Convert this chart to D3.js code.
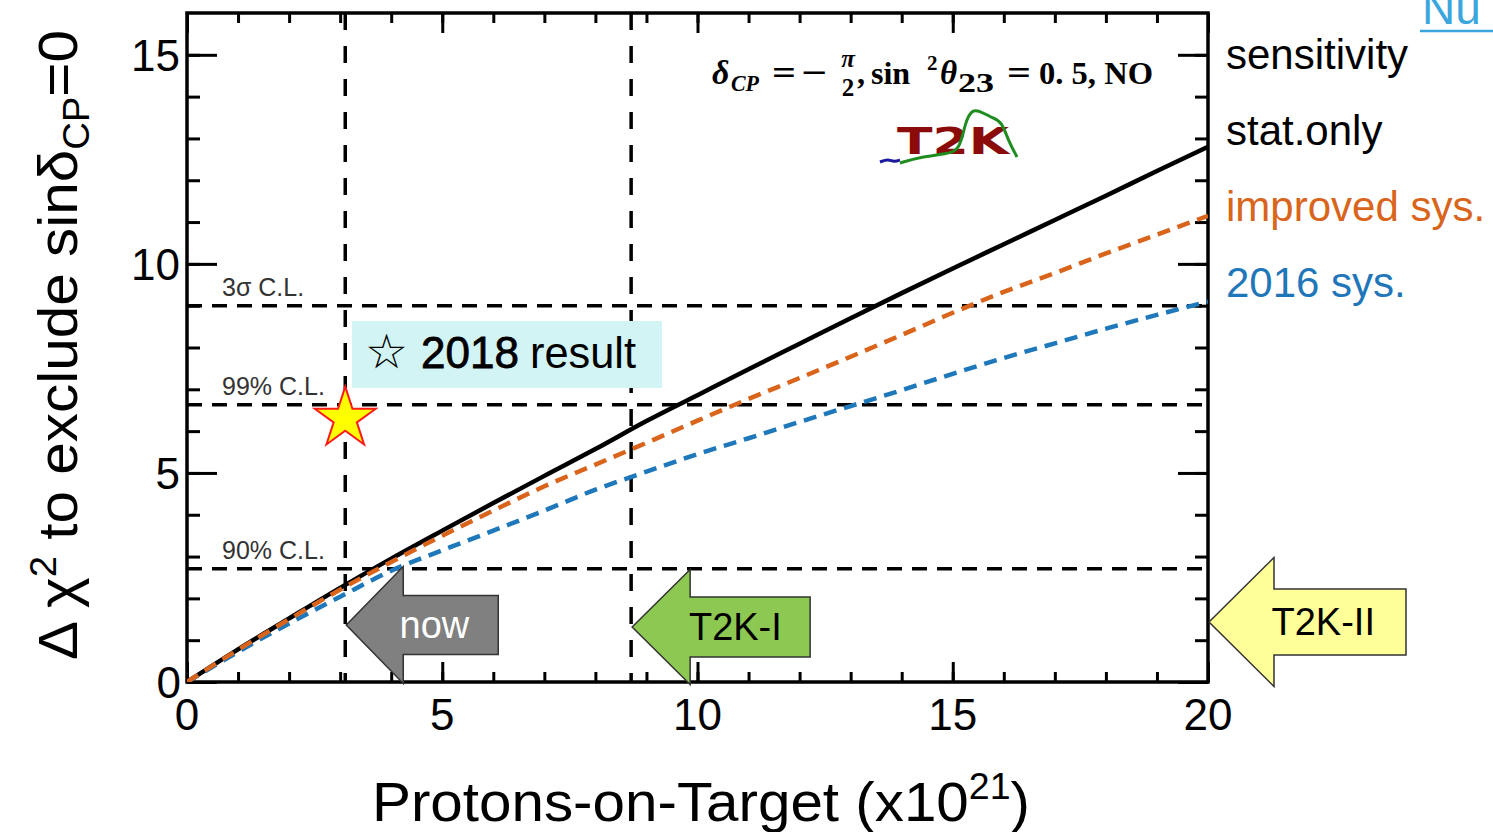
<!DOCTYPE html>
<html>
<head>
<meta charset="utf-8">
<script src="https://cdn.jsdelivr.net/npm/d3@7"></script>
<style>
  body { margin: 0; background: #fff; }
  svg { display: block; font-family: "Liberation Sans", Arial, sans-serif; }
</style>
</head>
<body>
<svg id="chart" width="1493" height="832"></svg>
<script>
// POT in units of 1e21
const pot = [0, 1, 2, 3, 4, 5, 6, 7, 8, 9, 10, 11, 12, 13, 14, 15, 16, 17, 18, 19, 20];
const sensitivity = [0, 0.78, 1.52, 2.25, 2.95, 3.62, 4.28, 4.93, 5.57, 6.24, 6.86, 7.48, 8.09, 8.7, 9.3, 9.89, 10.47, 11.05, 11.63, 12.22, 12.8];
const improvedSys = [0, 0.77, 1.5, 2.21, 2.87, 3.5, 4.1, 4.68, 5.2, 5.72, 6.25, 6.77, 7.27, 7.78, 8.3, 8.83, 9.33, 9.78, 10.25, 10.7, 11.15];
const sys2016 = [0, 0.72, 1.4, 2.04, 2.66, 3.15, 3.62, 4.1, 4.6, 5.03, 5.45, 5.83, 6.22, 6.6, 6.98, 7.37, 7.75, 8.1, 8.45, 8.78, 9.1];

const clLevels = [
  {label: "3σ C.L.", value: 9},
  {label: "99% C.L.", value: 6.63},
  {label: "90% C.L.", value: 2.71}
];
const potMarks = [3.1, 8.7];
const result2018 = {pot: 3.1, chi2: 6.3};
const phases = [
  {name: "now", pot: 3.1, fill: "#808080", text: "#fff"},
  {name: "T2K-I", pot: 8.7, fill: "#8dc852", text: "#000"},
  {name: "T2K-II", pot: 20, fill: "#ffff99", text: "#000"}
];
const legendItems = [
  {label: "sensitivity", color: "#000"},
  {label: "stat.only", color: "#000"},
  {label: "improved sys.", color: "#d9641c"},
  {label: "2016 sys.", color: "#1f76b9"}
];
const xMajor = [0, 5, 10, 15, 20];
const yMajor = [0, 5, 10, 15];

const ORANGE = "#d9641c";
const BLUE = "#1f78ba";

const svg = d3.select("#chart");
const pLeft = 187, pRight = 1208, pTop = 13, pBottom = 682;

const x = d3.scaleLinear().domain([0, 20]).range([pLeft, pRight]);
const y = d3.scaleLinear().domain([0, 16]).range([pBottom, pTop]);

// frame + ticks (all inward)
function drawAxis(axis, transform, ticks, size) {
  svg.append("g")
    .attr("transform", transform)
    .call(axis.tickValues(ticks).tickSize(size).tickFormat(""))
    .call(g => g.select(".domain").remove())
    .call(g => g.selectAll("line").attr("stroke", "#000").attr("stroke-width", 3));
}
const xMinor = d3.range(0, 21);
const yMinor = d3.range(0, 16);
drawAxis(d3.axisBottom(x), `translate(0,${pBottom})`, xMinor, -10);
drawAxis(d3.axisBottom(x), `translate(0,${pBottom})`, xMajor, -20);
drawAxis(d3.axisTop(x), `translate(0,${pTop})`, xMinor, -10);
drawAxis(d3.axisTop(x), `translate(0,${pTop})`, xMajor, -20);
drawAxis(d3.axisLeft(y), `translate(${pLeft},0)`, yMinor, -13);
drawAxis(d3.axisLeft(y), `translate(${pLeft},0)`, yMajor, -30);
drawAxis(d3.axisRight(y), `translate(${pRight},0)`, yMinor, -13);
drawAxis(d3.axisRight(y), `translate(${pRight},0)`, yMajor, -30);

svg.append("rect")
  .attr("x", pLeft).attr("y", pTop)
  .attr("width", pRight - pLeft).attr("height", pBottom - pTop)
  .attr("fill", "none").attr("stroke", "#000").attr("stroke-width", 3.5);

// tick labels
svg.append("g").selectAll("text").data(xMajor).join("text")
  .attr("x", d => x(d)).attr("y", 730)
  .attr("text-anchor", "middle").attr("font-size", 44)
  .text(d => d);
svg.append("g").selectAll("text").data(yMajor).join("text")
  .attr("x", d => d === 0 ? 181 : 180).attr("y", d => y(d) + 16)
  .attr("text-anchor", "end").attr("font-size", 44)
  .text(d => d);

// C.L. lines
svg.append("g").selectAll("line").data(clLevels).join("line")
  .attr("x1", pLeft).attr("x2", pRight)
  .attr("y1", d => y(d.value)).attr("y2", d => y(d.value))
  .attr("stroke", "#000").attr("stroke-width", 3.5)
  .attr("stroke-dasharray", "15,10");
svg.append("g").selectAll("text").data(clLevels).join("text")
  .attr("x", 222).attr("y", d => y(d.value) - 10)
  .attr("font-size", 25).attr("fill", "#333")
  .text(d => d.label);

svg.append("g").selectAll("line").data(potMarks).join("line")
  .attr("x1", d => x(d)).attr("x2", d => x(d))
  .attr("y1", pTop).attr("y2", pBottom)
  .attr("stroke", "#000").attr("stroke-width", 3.5)
  .attr("stroke-dasharray", "17,16");

// curves
svg.append("clipPath").attr("id", "plotclip")
  .append("rect").attr("x", pLeft).attr("y", pTop)
  .attr("width", pRight - pLeft).attr("height", pBottom - pTop);
const line = d3.line().x((d, i) => x(pot[i])).y(d => y(d)).curve(d3.curveMonotoneX);
const curves = svg.append("g").attr("clip-path", "url(#plotclip)");
curves.append("path").attr("d", line(sensitivity))
  .attr("fill", "none").attr("stroke", "#000").attr("stroke-width", 4.5);
curves.append("path").attr("d", line(sys2016))
  .attr("fill", "none").attr("stroke", BLUE).attr("stroke-width", 4.5)
  .attr("stroke-dasharray", "13,8");
curves.append("path").attr("d", line(improvedSys))
  .attr("fill", "none").attr("stroke", ORANGE).attr("stroke-width", 4.5)
  .attr("stroke-dasharray", "13,8");

// 2018 result box
svg.append("rect").attr("x", 352).attr("y", 321).attr("width", 310).attr("height", 67)
  .attr("fill", "#d2f4f4");
svg.append("text").attr("x", 365).attr("y", 368)
  .attr("font-family", "DejaVu Sans").attr("font-size", 48).text("☆");
svg.append("text").attr("x", 421).attr("y", 368).attr("font-size", 44)
  .attr("stroke", "#000").attr("stroke-width", 0.8).text("2018");
svg.append("text").attr("x", 530).attr("y", 368).attr("font-size", 44)
  .attr("textLength", 106).attr("lengthAdjust", "spacingAndGlyphs").text("result");

svg.append("path")
  .attr("d", d3.symbol(d3.symbolStar, 1150)())
  .attr("transform", `translate(${x(result2018.pot)},${y(result2018.chi2)})`)
  .attr("fill", "#ffff00").attr("stroke", "#ff1a1a").attr("stroke-width", 2);

// phase arrows
const arrowGeom = {
  "now": {tipY: 625, head: 57, halfHead: 58.5, halfBody: 29.5, len: 152},
  "T2K-I": {tipY: 627, head: 58, halfHead: 57.5, halfBody: 30, len: 178},
  "T2K-II": {tipY: 622, head: 65, halfHead: 64.5, halfBody: 33, len: 197}
};
phases.forEach(p => {
  const g = arrowGeom[p.name];
  const tx = x(p.pot) + 1;
  const pts = [
    [tx, g.tipY], [tx + g.head, g.tipY - g.halfHead], [tx + g.head, g.tipY - g.halfBody],
    [tx + g.len, g.tipY - g.halfBody], [tx + g.len, g.tipY + g.halfBody],
    [tx + g.head, g.tipY + g.halfBody], [tx + g.head, g.tipY + g.halfHead]
  ];
  svg.append("path").attr("d", d3.line()(pts) + "Z")
    .attr("fill", p.fill).attr("stroke", "#333").attr("stroke-width", 1.5);
  svg.append("text")
    .attr("x", tx + g.len * 0.58)
    .attr("y", g.tipY + 13)
    .attr("text-anchor", "middle").attr("font-size", 38).attr("fill", p.text)
    .text(p.name);
});

// legend
svg.append("g").selectAll("text").data(legendItems).join("text")
  .attr("x", 1226).attr("y", (d, i) => 69 + i * 76)
  .attr("font-size", 42).attr("fill", d => d.color)
  .text(d => d.label);

// formula: delta_CP = -pi/2, sin^2 theta_23 = 0.5, NO
const formulaParts = [
  {t: "δ", x: 712, y: 84, size: 34, italic: true},
  {t: "CP", x: 731, y: 91, size: 23, italic: true, len: 28},
  {t: "=", x: 772, y: 84, size: 34, len: 24},
  {t: "−", x: 801, y: 84, size: 34, len: 26},
  {t: "π", x: 848, y: 67, size: 25, italic: true, mid: true},
  {t: "2", x: 848, y: 96, size: 25, mid: true},
  {t: ",", x: 857, y: 84, size: 32},
  {t: "sin", x: 871, y: 84, size: 32},
  {t: "2", x: 927, y: 70, size: 21},
  {t: "θ", x: 940, y: 84, size: 33, italic: true},
  {t: "23", x: 958, y: 92, size: 27, len: 36},
  {t: "=", x: 1007, y: 84, size: 34, len: 24},
  {t: "0. 5, NO", x: 1039, y: 84, size: 32, len: 114}
];
svg.append("g").selectAll("text").data(formulaParts).join("text")
  .attr("x", d => d.x).attr("y", d => d.y)
  .attr("text-anchor", d => d.mid ? "middle" : "start")
  .attr("font-family", "Liberation Serif").attr("font-weight", "bold")
  .attr("font-size", d => d.size)
  .attr("font-style", d => d.italic ? "italic" : "normal")
  .attr("textLength", d => d.len || null)
  .attr("lengthAdjust", "spacingAndGlyphs")
  .text(d => d.t);

// T2K logo
const logoWave = [[900, 163], [920, 157], [947, 154], [960, 150], [965, 122], [973, 108], [983, 113], [993, 118], [1002, 122], [1008, 140], [1017, 157]];
const logoTail = [[880, 162], [888, 159], [894, 162], [900, 160]];
svg.append("text").attr("x", 897).attr("y", 154)
  .attr("font-family", "DejaVu Sans").attr("font-weight", "bold").attr("font-size", 38)
  .attr("fill", "#8b0a0a").attr("textLength", 112).attr("lengthAdjust", "spacingAndGlyphs")
  .text("T2K");
svg.append("path").attr("d", d3.line().curve(d3.curveBasis)(logoTail))
  .attr("fill", "none").attr("stroke", "#1a1aa0").attr("stroke-width", 3);
svg.append("path").attr("d", d3.line().curve(d3.curveBasis)(logoWave))
  .attr("fill", "none").attr("stroke", "#1e8c1e").attr("stroke-width", 3);

// axis titles
const xt = svg.append("text").attr("x", 701).attr("y", 821)
  .attr("text-anchor", "middle").attr("font-size", 56)
  .attr("textLength", 658).attr("lengthAdjust", "spacingAndGlyphs");
xt.append("tspan").text("Protons-on-Target (x10");
xt.append("tspan").attr("font-size", 36).attr("dy", -22).text("21");
xt.append("tspan").attr("dy", 22).text(")");

const yt = svg.append("text").attr("transform", "translate(77,345) rotate(-90)")
  .attr("text-anchor", "middle").attr("font-size", 55)
  .attr("textLength", 630).attr("lengthAdjust", "spacingAndGlyphs");
yt.append("tspan").text("Δ χ");
yt.append("tspan").attr("font-size", 36).attr("dy", -21).text("2");
yt.append("tspan").attr("dy", 21).text(" to exclude sinδ");
yt.append("tspan").attr("font-size", 36).attr("dy", 12).text("CP");
yt.append("tspan").attr("dy", -12).text("=0");

// corner link text
svg.append("text").attr("x", 1422).attr("y", 24).attr("font-size", 46)
  .attr("fill", "#3ba6dd").text("Nu");
svg.append("line").attr("x1", 1420).attr("x2", 1493).attr("y1", 31).attr("y2", 31)
  .attr("stroke", "#3ba6dd").attr("stroke-width", 2.5);
</script>
</body>
</html>
